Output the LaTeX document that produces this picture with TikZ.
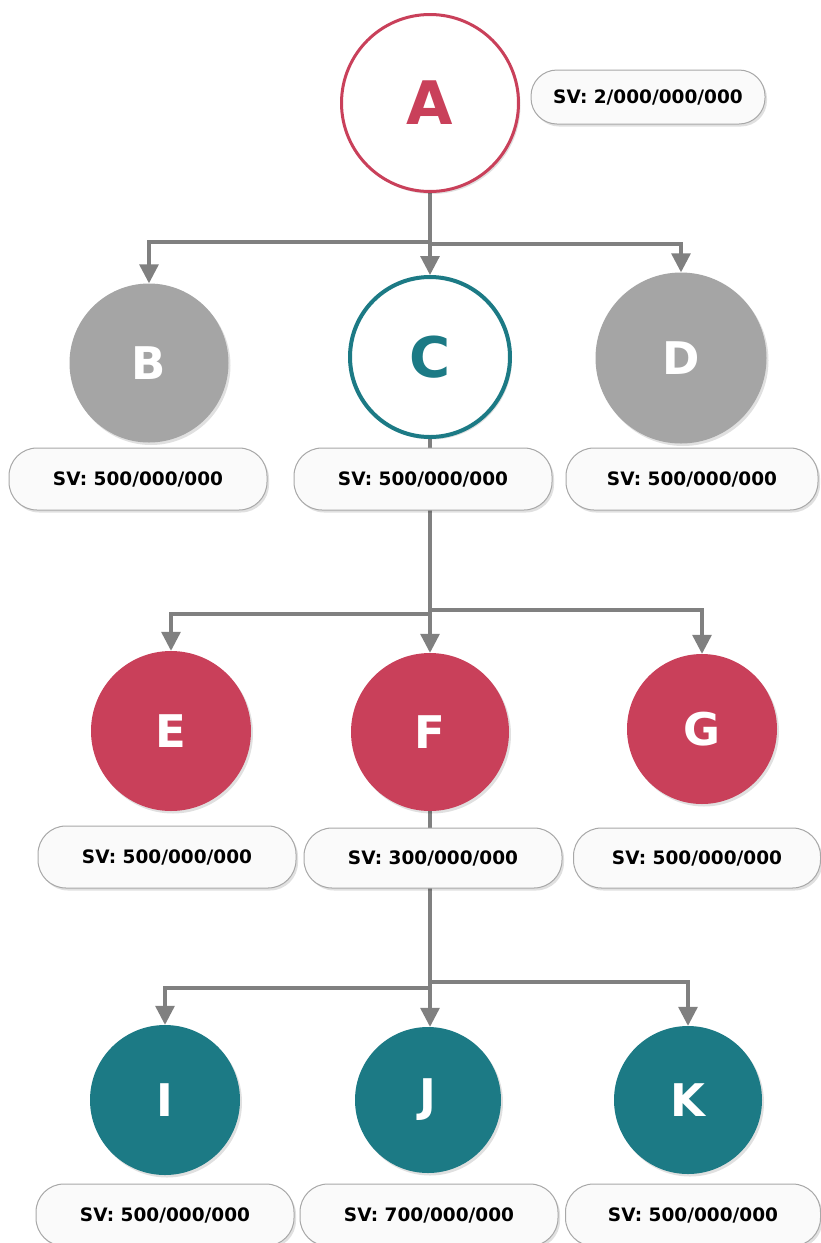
\documentclass[tikz,border=0pt]{standalone}
\usepackage{fontspec}
\setmainfont{DejaVu Sans}
\usetikzlibrary{arrows.meta,shadows}
\definecolor{nodered}{HTML}{C9405A}
\definecolor{nodeteal}{HTML}{1C7A85}
\definecolor{nodegray}{HTML}{A5A5A5}
\definecolor{linkgray}{HTML}{808080}
\definecolor{pillfill}{HTML}{FAFAFA}
\definecolor{pilledge}{HTML}{A8A8A8}
\pgfdeclarelayer{paper}
\pgfdeclarelayer{links}
\pgfsetlayers{paper,links,main}
\tikzset{
  soft/.style={drop shadow={shadow xshift=2pt,shadow yshift=-2.5pt,fill=black,opacity=0.12}},
  bubble/.style={circle,minimum size=#1,inner sep=0pt,soft,
    font=\fontsize{45}{45}\selectfont\bfseries,text=white},
  pill/.style={rectangle,rounded corners=28pt,draw=pilledge,line width=1pt,fill=pillfill,
    minimum width=#1,minimum height=62pt,inner sep=0pt,soft,
    font=\fontsize{18.5}{18.5}\selectfont\bfseries},
  link/.style={draw=linkgray,line width=3.2pt,-{Triangle[width=19pt,length=19pt]}},
  trunk/.style={draw=linkgray,line width=3.2pt},
}
\begin{document}
\begin{tikzpicture}[x=1pt,y=-1pt]
\begin{pgfonlayer}{paper}
  \fill[white] (0,0) rectangle (821,1243);
\end{pgfonlayer}
\useasboundingbox (0,0) rectangle (821,1243);

% root
\node[bubble=177pt,draw=nodered,line width=3pt,fill=white,text=nodered,
  font=\fontsize{60}{60}\selectfont\bfseries] (A) at (430,103) {A};
\node[pill=234pt,minimum height=54pt,rounded corners=26pt] (lA) at (648,97) {SV: 2/000/000/000};

% second level
\node[bubble=159pt,fill=nodegray] (B) at (149,363) {B};
\node[bubble=160pt,draw=nodeteal,line width=4pt,fill=white,text=nodeteal,
  font=\fontsize{56}{56}\selectfont\bfseries] (C) at (430,357) {C};
\node[bubble=171pt,fill=nodegray] (D) at (681,358) {D};
\node[pill=258pt] (lB) at (138,479) {SV: 500/000/000};
\node[pill=258pt] (lC) at (423,479) {SV: 500/000/000};
\node[pill=252pt] (lD) at (692,479) {SV: 500/000/000};

% third level
\node[bubble=160pt,fill=nodered] (E) at (171,731) {E};
\node[bubble=158pt,fill=nodered] (F) at (430,732) {F};
\node[bubble=150pt,fill=nodered] (G) at (702,729) {G};
\node[pill=258pt] (lE) at (167,857) {SV: 500/000/000};
\node[pill=258pt,minimum height=60pt] (lF) at (433,858) {SV: 300/000/000};
\node[pill=247pt,minimum height=60pt] (lG) at (697,858) {SV: 500/000/000};

% fourth level
\node[bubble=150pt,fill=nodeteal] (I) at (165,1100) {I};
\node[bubble=146pt,fill=nodeteal] (J) at (428,1100) {J};
\node[bubble=148pt,fill=nodeteal] (K) at (688,1100) {K};
\node[pill=258pt] (lI) at (165,1215) {SV: 500/000/000};
\node[pill=258pt] (lJ) at (429,1215) {SV: 700/000/000};
\node[pill=255pt] (lK) at (693,1215) {SV: 500/000/000};

% branching points
\coordinate (a1) at (430,242);
\coordinate (a2) at (430,244);
\coordinate (c1) at (430,614);
\coordinate (c2) at (430,610);
\coordinate (f1) at (430,988);
\coordinate (f2) at (430,982);

\begin{pgfonlayer}{links}
  \draw[trunk] (A.south) -- (a2);
  \draw[link] (a1) -| (B.north);
  \draw[link] (a2) -- (C.north);
  \draw[link] (a2) -| (D.north);

  \draw[trunk] (C.south) -- (c1);
  \draw[link] (c1) -| (E.north);
  \draw[link] (c1) -- (F.north);
  \draw[link] (c2) -| (G.north);

  \draw[trunk] (F.south) -- (f1);
  \draw[link] (f1) -| (I.north);
  \draw[link] (f1) -- (f1 |- J.north);
  \draw[link] (f2) -| (K.north);
\end{pgfonlayer}
\end{tikzpicture}
\end{document}
